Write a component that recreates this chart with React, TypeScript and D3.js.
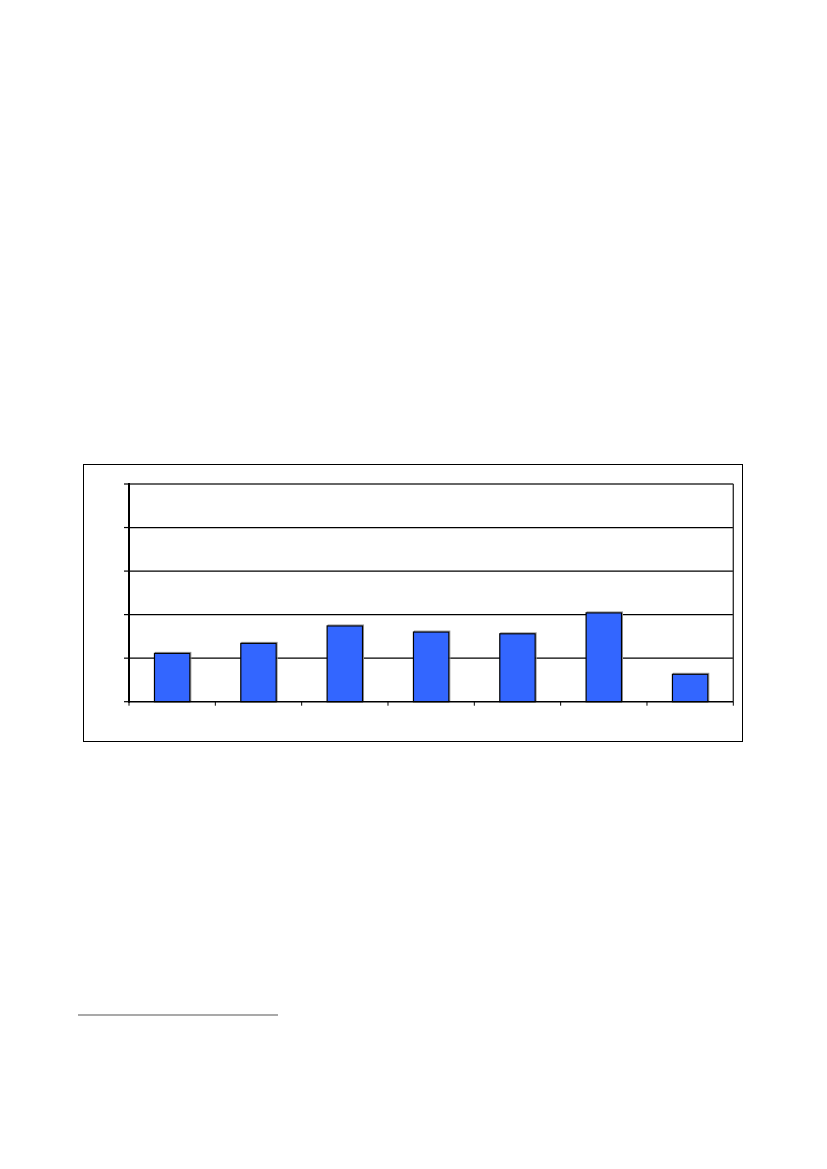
import React from "react";
import * as d3 from "d3";

const categories = ["1", "2", "3", "4", "5", "6", "7"];
const values = [1.11, 1.34, 1.74, 1.6, 1.56, 2.04, 0.63];
const yTicks = [0, 1, 2, 3, 4, 5];

const W = 827;
const H = 1169;
const plot = { left: 129, right: 733.3, top: 484, bottom: 701.7 };

export default function App() {
  const x = d3
    .scaleBand<string>()
    .domain(categories)
    .range([plot.left, plot.right])
    .paddingInner(0.59)
    .paddingOuter(0.295);
  const xb = d3.scaleBand<string>().domain(categories).range([plot.left, plot.right]);
  const y = d3.scaleLinear().domain([0, 5]).range([plot.bottom, plot.top]);
  const boundaries = d3.range(categories.length + 1).map((i) => plot.left + i * xb.step());

  return (
    <svg
      width={W}
      height={H}
      style={{ position: "absolute", left: 0, top: 0, background: "#fff" }}
    >
      {/* outer chart frame */}
      <rect x={83.5} y={464.5} width={659} height={277} fill="#fff" stroke="#000" strokeWidth={1} />
      {/* gridlines */}
      {yTicks.slice(1, -1).map((t) => (
        <line key={t} x1={plot.left} x2={plot.right} y1={y(t)} y2={y(t)} stroke="#000" strokeWidth={1.2} />
      ))}
      {/* top & right plot border */}
      <line x1={plot.left} x2={plot.right} y1={y(5)} y2={y(5)} stroke="#333" strokeWidth={1.4} />
      <line x1={plot.right} x2={plot.right} y1={plot.top} y2={plot.bottom} stroke="#333" strokeWidth={1.4} />
      {/* bars */}
      {values.map((v, i) => (
        <g key={i}>
          <rect
            x={(x(categories[i]) as number) + 1}
            y={y(v) - 1}
            width={x.bandwidth()}
            height={plot.bottom - y(v)}
            fill="none"
            stroke="#999"
            strokeWidth={1}
          />
          <rect
            x={x(categories[i]) as number}
            y={y(v)}
            width={x.bandwidth()}
            height={plot.bottom - y(v)}
            fill="#3366FF"
            stroke="#000"
            strokeWidth={1.2}
          />
        </g>
      ))}
      {/* x axis */}
      <line x1={plot.left} x2={plot.right} y1={plot.bottom} y2={plot.bottom} stroke="#000" strokeWidth={1.5} />
      {boundaries.map((bx, i) => (
        <line key={i} x1={bx} x2={bx} y1={plot.bottom} y2={plot.bottom + 4} stroke="#000" strokeWidth={1} />
      ))}
      {/* y axis */}
      <line x1={plot.left} x2={plot.left} y1={plot.top - 1} y2={plot.bottom + 1} stroke="#000" strokeWidth={2} />
      {yTicks.map((t) => (
        <line key={t} x1={plot.left - 5} x2={plot.left} y1={y(t)} y2={y(t)} stroke="#000" strokeWidth={1.2} />
      ))}
      {/* footnote separator */}
      <line x1={78} x2={278} y1={1015} y2={1015} stroke="#555" strokeWidth={1.2} />
    </svg>
  );
}
